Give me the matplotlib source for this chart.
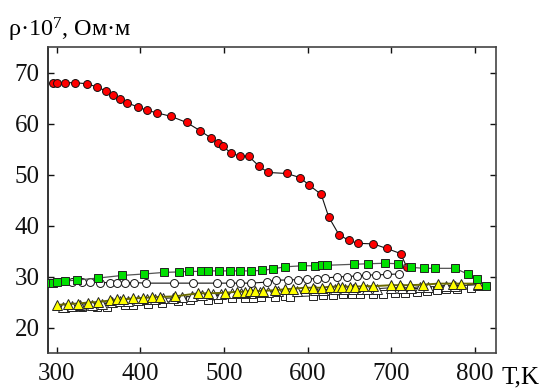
import matplotlib
matplotlib.use("Agg")
import matplotlib.pyplot as plt

plt.rcParams['font.family'] = ['Liberation Serif', 'DejaVu Serif']
plt.rcParams['mathtext.fontset'] = 'custom'
plt.rcParams['mathtext.rm'] = 'Liberation Serif'
plt.rcParams['mathtext.it'] = 'Liberation Serif:italic'

# Red circles
red_T = [295.9, 300, 309.9, 321.9, 335.8, 347.8, 358.5, 367.6, 375.6, 383.6, 397.5, 407.5,
         419.5, 436.6, 455.3, 471.2, 484, 493.1, 499, 508.2, 519, 529.4, 541.3, 552.5,
         574.8, 590.8, 601.8, 616.1, 625, 637.3, 648.9, 660, 678.3, 694.3, 711, 718.2]
red_R = [68.0, 68.0, 68.0, 68.0, 67.8, 67.2, 66.4, 65.6, 64.8, 64.1, 63.2, 62.6,
         62.1, 61.4, 60.2, 58.6, 57.2, 56.1, 55.5, 54.2, 53.6, 53.6, 51.7, 50.4,
         50.2, 49.4, 47.9, 46.1, 41.7, 38.2, 37.1, 36.5, 36.4, 35.5, 34.5, 31.9]

# Green squares
green_T = [291.2, 295.9, 300.7, 309.9, 323.9, 349.7, 377.7, 404.7, 428.2, 446.1, 458.4, 472,
           481.1, 493.9, 507, 519, 532.1, 545.6, 558.8, 572.8, 593.4, 608.6, 616.6, 623.3,
           655.2, 672.3, 692.2, 708.1, 723.3, 738.8, 752, 775.9, 791, 801.8, 812.6]
green_R = [28.8, 28.8, 28.9, 29.1, 29.3, 29.7, 30.2, 30.5, 30.8, 30.9, 31.0, 31.0,
           31.1, 31.1, 31.1, 31.1, 31.1, 31.2, 31.5, 31.9, 32.1, 32.1, 32.2, 32.2,
           32.4, 32.5, 32.6, 32.5, 31.8, 31.6, 31.6, 31.6, 30.5, 29.5, 28.1]

# White circles
wc_T = [317.9, 329.9, 339.8, 351.7, 363.7, 371.7, 381.6, 392.7, 406.7, 440.5, 463.2, 491.2,
        507, 519, 532.1, 550.9, 562, 576.7, 588.6, 599.4, 610.6, 620.5, 634.5, 647.2,
        658.4, 669.5, 681.5, 694.3, 709.3]
wc_R = [28.9, 29.0, 29.0, 28.8, 28.8, 28.8, 28.8, 28.8, 28.7, 28.7, 28.7, 28.7,
        28.7, 28.7, 28.7, 28.9, 29.3, 29.3, 29.4, 29.5, 29.6, 29.7, 29.9, 30.0,
        30.1, 30.3, 30.3, 30.4, 30.5]

# Yellow triangles
yt_T = [299.9, 313.9, 325.8, 337.7, 349.7, 363.6, 371.6, 379.5, 391.5, 403.4, 413.4, 423.3,
        441.2, 469.1, 481.0, 500.9, 514.9, 524.8, 530.8, 536.7, 546.7, 560.6, 572.8, 582.7,
        596.7, 606.6, 616.6, 626.5, 636.5, 640.4, 650.4, 656.4, 666.3, 678.2, 700.1, 710.1,
        722.0, 738.0, 755.9, 773.8, 783.7, 803.6]
yt_R = [24.4, 24.6, 24.7, 24.9, 25.0, 25.3, 25.5, 25.5, 25.7, 25.8, 25.9, 26.0,
        26.1, 26.7, 26.7, 26.8, 27.0, 27.0, 27.1, 27.1, 27.2, 27.3, 27.5, 27.6,
        27.8, 27.8, 27.8, 28.0, 28.0, 28.0, 28.0, 28.0, 28.1, 28.1, 28.3, 28.3,
        28.3, 28.4, 28.6, 28.6, 28.6, 28.6]

# White triangles
wt_T = [307.9, 317.8, 327.8, 341.7, 353.7, 365.6, 375.6, 385.5, 397.4, 407.4, 417.3, 427.3,
        439.2, 449.2, 461.1, 473.1, 487.0, 496.9, 508.9, 520.8, 532.8, 542.7, 552.7, 564.6,
        586.7, 608.6, 618.5, 632.5, 644.4, 654.4, 664.3, 670.3, 682.2, 700.1, 712.1, 724.0,
        734.0, 743.9, 765.8, 775.8, 803.6]
wt_R = [24.0, 24.2, 24.4, 24.5, 24.7, 25.0, 25.1, 25.2, 25.3, 25.5, 25.5, 25.7,
        25.8, 25.9, 26.1, 26.3, 26.5, 26.5, 26.7, 26.7, 26.8, 26.9, 27.0, 27.1,
        27.1, 27.3, 27.4, 27.5, 27.6, 27.6, 27.6, 27.6, 27.6, 27.8, 27.8, 27.8,
        28.0, 28.0, 28.1, 28.1, 28.4]

# White squares
ws_T = [309.9, 319.8, 329.8, 347.7, 359.6, 381.5, 391.5, 409.4, 425.3, 445.2, 459.1, 481.0,
        493.0, 508.9, 524.8, 534.8, 544.7, 560.6, 572.6, 578.7, 606.6, 618.5, 630.5, 642.4,
        652.4, 662.3, 678.2, 690.2, 704.1, 716.1, 730.0, 742.0, 753.9, 765.8, 777.8, 795.7]
ws_R = [23.8, 24.0, 24.0, 24.0, 24.0, 24.4, 24.5, 24.7, 24.9, 25.2, 25.3, 25.3,
        25.5, 25.7, 25.7, 25.7, 25.9, 26.0, 26.2, 26.0, 26.2, 26.3, 26.3, 26.5,
        26.5, 26.5, 26.6, 26.6, 26.8, 26.8, 27.0, 27.1, 27.3, 27.5, 27.6, 27.8]

x_ticks = [300, 400, 500, 600, 700, 800]
y_ticks = [20, 30, 40, 50, 60, 70]

fig = plt.figure(figsize=(5.42, 3.89), dpi=100)
ax = fig.add_axes([48/542, 1-353/389, (496-48)/542, (353-47)/389])

ms = 5.7
ax.plot(ws_T, ws_R, '-', color='#333333', lw=0.8, marker='s', ms=ms, mfc='white', mec='#222222', mew=0.7, zorder=2)
ax.plot(wt_T, wt_R, '-', color='#333333', lw=0.8, marker='^', ms=ms+1.0, mfc='white', mec='#222222', mew=0.7, zorder=3)
ax.plot(yt_T, yt_R, '-', color='#6b6b00', lw=1.4, marker='^', ms=ms+1.0, mfc='#ffff00', mec='#222222', mew=0.7, zorder=4)
ax.plot(wc_T, wc_R, '-', color='#111111', lw=0.8, marker='o', ms=ms, mfc='white', mec='#111111', mew=0.7, zorder=5)
ax.plot(red_T, red_R, '-', color='#111111', lw=0.8, marker='o', ms=ms, mfc='#ff0000', mec='#111111', mew=0.7, zorder=6)
ax.plot(green_T, green_R, '-', color='#555555', lw=0.9, marker='s', ms=ms, mfc='#00e000', mec='#222222', mew=0.7, zorder=7)

ax.set_xlim(289.6, 825)
ax.set_ylim(15, 75)
ax.set_xticks(x_ticks)
ax.set_yticks(y_ticks)
ax.tick_params(direction='in', length=4, width=1, top=True, right=True, labelsize=18, colors='#111111')
ax.tick_params(axis='x', pad=7)
ax.tick_params(axis='y', pad=6)
for s in ax.spines.values():
    s.set_color('#444444')
    s.set_linewidth(1.2)
ax.spines['left'].set_color('#111111')

fig.text(8/542, 1-36/389, r'ρ·10$^{7}$, Ом·м', fontsize=17.5, ha='left', va='baseline')
fig.text(539/542, 1-383/389, 'T,K', fontsize=18, ha='right', va='baseline')

fig.savefig('out.png', dpi=100)
